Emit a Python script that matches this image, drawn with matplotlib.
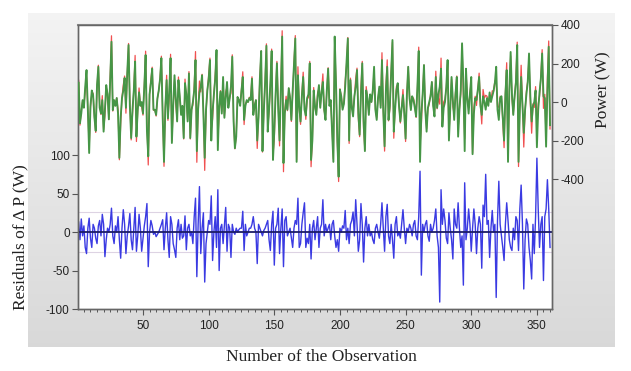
import numpy as np
import matplotlib
matplotlib.use("Agg")
import matplotlib.pyplot as plt
from matplotlib.ticker import MultipleLocator

# ---------------- data ----------------
fitted = [
    100, -110, -60, 10, -30, 80, 166, -40, -265, -20,
    60, 36, -80, -150, 90, 183, -30, -60, 10, -154,
    -40, 88, 40, -90, 120, 313, -42, 10, -20, 21,
    -60, -290, -80, 20, 60, 125, -30, 150, 296, -20,
    -187, -40, 60, 210, -180, -40, 50, -20, 0, -60,
    80, 244, -150, -282, 40, 100, 173, -40, -40, -67,
    20, 60, 120, 228, -80, -311, -30, 114, -85, 60,
    228, -213, -20, 139, 20, -101, 114, 30, -67, -20,
    -187, 98, 40, -101, 148, -187, -40, 0, 60, 218,
    -255, -35, 50, 80, 139, -60, -290, -40, 60, 120,
    218, -200, -50, 40, 120, 270, -250, -20, 54, -60,
    130, -82, 20, 104, -30, 17, 80, 235, -100, -240,
    -180, 26, 10, -20, 60, 130, -93, -20, 10, 0,
    20, 10, 121, -67, -20, 10, -200, -80, 120, 265,
    -255, -50, 100, 292, -154, -40, 100, 265, -301, -150,
    40, 201, -40, -200, 80, 340, -317, -60, 10, -40,
    72, 20, -93, 60, 200, 330, -311, 139, -20, -101,
    30, 130, -40, -70, 20, 40, 201, -301, -200, 60,
    -20, -67, 30, 88, -30, 50, 104, -40, -93, 60,
    173, -20, 10, -150, -311, 340, 100, -200, -388, 64,
    30, -40, -10, 80, 200, 330, -200, 114, -30, -75,
    30, 80, 166, -60, -170, 40, 201, -100, -255, 60,
    20, -67, 40, 0, 60, 183, -40, -93, 20, 80,
    -30, 218, -50, -230, 60, 183, -93, -20, 150, 322,
    -154, -40, 60, 98, -20, -101, -30, 36, -60, -190,
    40, 183, 20, -42, 30, 10, -30, -75, 80, 265,
    -311, -60, 40, 192, -40, -154, -30, 0, 30, 104,
    -20, -75, 130, -30, 40, 80, 173, -128, -30, 0,
    80, 218, -200, -40, 130, 10, -93, 40, 130, -180,
    -40, 60, 305, 100, -255, 173, 20, -60, 40, 130,
    -271, -60, 20, 10, 64, 130, -20, -67, 30, 0,
    -40, 20, -20, 50, 0, 30, 57, 100, 183, -40,
    -93, 20, 30, -80, -200, 40, 166, -311, 60, 260,
    40, -67, 30, 100, 296, -311, -40, 130, -20, -160,
    -40, 40, 100, 252, 30, -101, -20, 0, 60, -235,
    -40, 50, 120, 252, 30, 20, -232, 60, 287, -120,
]

residual = [
    13, -10, 17, -5, 8, -20, -28, 5, 18, -8,
    -20, 10, 5, -8, -15, 8, 15, -5, 23, 10,
    -32, -10, 5, 0, 10, 31, -5, -15, 8, 0,
    20, -10, -34, 5, 29, 10, -28, -5, 8, 24,
    -10, -23, 5, 32, -25, -5, 23, 5, -25, -8,
    8, 20, 37, -45, 0, 15, 8, -3, 0, -6,
    -3, 0, 5, 10, 16, -23, 5, 25, -10, -33,
    20, 10, -15, -23, -33, 5, 16, -10, 10, -8,
    -5, 21, -23, 5, 10, -5, 0, -15, 20, 44,
    -58, 10, 59, -28, 5, 25, -65, -15, 0, 15,
    10, 47, -37, 0, 20, -20, 55, -50, 5, 10,
    -15, 8, 32, -25, 10, 5, -33, 10, 0, -3,
    5, 0, 3, 5, 5, 27, -24, 10, -5, 0,
    5, 5, 10, 20, 5, 0, -41, 10, 5, 0,
    -5, 2, 5, 10, 15, -10, -24, 10, 27, -43,
    5, 10, 31, -28, 5, 30, -45, 15, 20, -5,
    0, 5, -8, -20, 5, 15, 10, 44, -20, -15,
    10, 25, 38, -20, -8, -15, 10, -35, 5, 15,
    -10, 5, 20, -20, 5, 10, 42, -5, 10, 0,
    5, 10, -10, 10, 15, -5, -20, -10, -25, 5,
    0, 8, 5, 28, -10, 5, -15, 10, 15, 26,
    -5, 42, 10, -25, -10, 37, 10, -39, 5, 20,
    -5, 10, -5, 0, -10, -15, 5, 10, 0, -8,
    10, 38, 5, -25, 20, 36, -5, -15, 10, -10,
    -34, 10, 20, -5, 0, -8, 10, 29, 5, -15,
    5, 0, 10, 5, -5, 10, 15, -5, -10, 20,
    79, -56, 10, 0, 10, 15, -5, -12, 10, 0,
    5, 15, 30, -5, -20, -91, 55, 10, 30, 15,
    -8, -15, 25, 5, -10, -35, 30, 10, 5, 38,
    5, -20, -5, -69, 64, -10, 5, 30, 10, -25,
    5, 30, 10, -28, 5, 20, 10, -47, 35, 20,
    75, 10, 15, -33, 5, 28, 0, 10, -85, 15,
    66, 10, -5, -20, -37, 10, 38, 15, -10, -20,
    -24, 5, -10, 20, 15, -24, 30, 61, 10, -74,
    -10, 17, 10, -20, -37, -61, 10, -28, 20, 96,
    30, -20, 10, 20, -63, 20, 30, 68, 30, -20,
]

n = min(len(fitted), len(residual))
fitted_a = np.array(fitted[:n], dtype=float)
residual_a = np.array(residual[:n], dtype=float)
actual_a = fitted_a + residual_a          # actual = fitted + residual
obs = np.arange(1, n + 1)

x_ticks = [50, 100, 150, 200, 250, 300, 350]
left_ticks = [-100, -50, 0, 50, 100]
right_ticks = [-400, -200, 0, 200, 400]
se_band = 26

# ---------------- figure ----------------
W, H = 631, 371
fig = plt.figure(figsize=(W / 100, H / 100), dpi=100)
fig.patch.set_facecolor("white")

# gray gradient panel behind the chart
bg = fig.add_axes([28 / W, 1 - 347 / H, (615 - 28) / W, (347 - 13) / H], zorder=-5)
grad = np.linspace(0.955, 0.85, 256).reshape(-1, 1)
bg.imshow(np.dstack([grad, grad, grad]), aspect="auto", extent=[0, 1, 0, 1])
bg.set_axis_off()

ax = fig.add_axes([78 / W, 1 - 309 / H, (552 - 78) / W, (309 - 25) / H], zorder=1)
ax.set_facecolor("white")
ax2 = ax.twinx()

tick_font = dict(family=["Liberation Sans", "DejaVu Sans"], size=8.5)
label_font = dict(family=["Liberation Serif", "DejaVu Serif"], size=12.5)

# residual (left axis)
ax.axhline(se_band, color="#ddd3e3", lw=0.8, zorder=1)
ax.axhline(-se_band, color="#ddd3e3", lw=0.8, zorder=1)
ax.plot(obs, residual_a, color="#3a3ae2", lw=1.0, zorder=2)
ax.axhline(0, color="#1c1c66", lw=1.3, zorder=3)
ax.set_ylim(-100, 269)
ax.set_yticks(left_ticks)
ax.set_yticklabels([str(t) for t in left_ticks], fontdict=tick_font)

# actual / fitted (right axis)
ax2.plot(obs, actual_a, color="#f05050", lw=0.9, zorder=2)
ax2.plot(obs, fitted_a, color="#469646", lw=1.35, zorder=3)
ax2.set_ylim(-1075, 400)
ax2.set_yticks(right_ticks)
ax2.set_yticklabels([str(t) for t in right_ticks], fontdict=tick_font)

ax.set_xlim(0.5, 361.5)
ax.set_xticks(x_ticks)
ax.set_xticklabels([str(t) for t in x_ticks], fontdict=tick_font)
ax.xaxis.set_minor_locator(MultipleLocator(5))

for a in (ax, ax2):
    for s in a.spines.values():
        s.set_color("#666666")
        s.set_linewidth(1.0)
ax.spines["top"].set_color("#8a8a8a")
ax.spines["top"].set_linewidth(1.5)

ax.tick_params(axis="x", which="major", direction="out", length=4, width=0.8,
               color="#555555", pad=4, labelcolor="#222222")
ax.tick_params(axis="x", which="minor", direction="out", length=2.5, width=0.7,
               color="#555555")
ax.tick_params(axis="y", direction="out", length=4, width=0.8, color="#555555",
               pad=2, labelcolor="#222222")
ax2.tick_params(axis="y", direction="out", length=4, width=0.8, color="#555555",
                pad=2, labelcolor="#222222")

fig.text(20 / W, 1 - 237 / H, "Residuals of \u0394 P (W)", rotation=90,
         ha="center", va="center", fontdict=label_font, color="#222222")
fig.text(603 / W, 1 - 90 / H, "Power (W)", rotation=90,
         ha="center", va="center", fontdict=label_font, color="#222222")
fig.text(321 / W, 1 - 357 / H, "Number of the Observation",
         ha="center", va="center", fontdict=label_font, color="#222222")

fig.savefig("out.png", dpi=100, facecolor="white")
